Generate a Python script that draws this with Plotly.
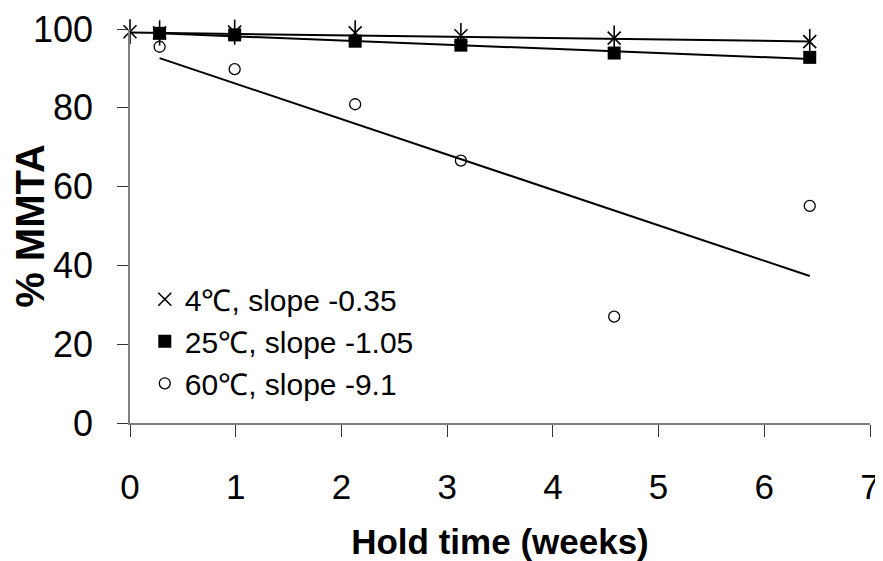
import plotly.graph_objects as go

# Data
weeks_4c = [0, 0.28, 0.99, 2.13, 3.13, 4.58, 6.43]
mmta_4c = [99.3, 99.0, 99.2, 99.0, 98.3, 97.7, 96.8]

weeks_25c = [0.28, 0.99, 2.13, 3.13, 4.58, 6.43]
mmta_25c = [98.9, 98.5, 96.9, 95.9, 93.9, 92.8]

weeks_60c = [0.28, 0.99, 2.13, 3.13, 4.58, 6.43]
mmta_60c = [95.5, 89.8, 80.9, 66.6, 27.0, 55.1]

# Linear trend line end points
trend_x_4c = [0, 6.43]
trend_y_4c = [99.1, 96.85]
trend_x_25c = [0.28, 6.43]
trend_y_25c = [98.9, 92.4]
trend_x_60c = [0.28, 6.43]
trend_y_60c = [92.6, 37.3]

labels = ["4℃, slope -0.35", "25℃, slope -1.05", "60℃, slope -9.1"]
x_ticks = [0, 1, 2, 3, 4, 5, 6, 7]
y_ticks = [0, 20, 40, 60, 80, 100]

fig = go.Figure()

for tx, ty in [(trend_x_4c, trend_y_4c), (trend_x_25c, trend_y_25c), (trend_x_60c, trend_y_60c)]:
    fig.add_trace(go.Scatter(x=tx, y=ty, mode="lines", line=dict(color="black", width=2),
                             showlegend=False, hoverinfo="skip", cliponaxis=False))

# 4 C: six-armed star = diagonal cross + vertical bar
fig.add_trace(go.Scatter(x=weeks_4c, y=mmta_4c, mode="markers", name=labels[0], legendgroup="a",
                         marker=dict(symbol="x-thin-open", size=13, color="black",
                                     line=dict(color="black", width=1.6)),
                         cliponaxis=False))
fig.add_trace(go.Scatter(x=weeks_4c, y=mmta_4c, mode="markers", legendgroup="a", showlegend=False,
                         hoverinfo="skip",
                         marker=dict(symbol="line-ns-open", size=18, color="black",
                                     line=dict(color="black", width=1.6)),
                         cliponaxis=False))
fig.add_trace(go.Scatter(x=weeks_25c, y=mmta_25c, mode="markers", name=labels[1], legendgroup="b",
                         marker=dict(symbol="square", size=13, color="black"),
                         cliponaxis=False))
fig.add_trace(go.Scatter(x=weeks_60c, y=mmta_60c, mode="markers", name=labels[2], legendgroup="c",
                         marker=dict(symbol="circle-open", size=11, color="black",
                                     line=dict(color="black", width=1.3)),
                         cliponaxis=False))

fig.update_layout(
    width=875, height=553,
    margin=dict(l=122, r=13, t=21, b=138),
    paper_bgcolor="white", plot_bgcolor="white",
    font=dict(family="Liberation Sans, Arial, sans-serif", color="black"),
    showlegend=True,
    legend=dict(x=0.02, y=0.38, xanchor="left", yanchor="top",
                font=dict(size=30, family="Liberation Sans, Arial, sans-serif"),
                bgcolor="rgba(0,0,0,0)", tracegroupgap=7, traceorder="normal"),
    xaxis=dict(range=[0, 7], tickvals=x_ticks, ticktext=[str(v) for v in x_ticks],
               automargin=False,
               showgrid=False, zeroline=False, showline=True, linecolor="#808080", linewidth=1.5,
               ticks="outside", ticklen=12, tickcolor="#333333", tickwidth=1.2,
               tickfont=dict(size=35), ticklabelstandoff=20,
               title=dict(text="<b>Hold time (weeks)</b>", font=dict(size=35), standoff=32)),
    yaxis=dict(range=[0, 100], tickvals=y_ticks, ticktext=[str(v) for v in y_ticks],
               automargin=False,
               showgrid=False, zeroline=False, showline=True, linecolor="#808080", linewidth=1.5,
               ticks="outside", ticklen=11, tickcolor="#333333", tickwidth=1.2,
               tickfont=dict(size=36), ticklabelstandoff=17,
               title=dict(text="<b>% MMTA</b>", font=dict(size=40), standoff=0)),
)

fig.write_html("out.html")
